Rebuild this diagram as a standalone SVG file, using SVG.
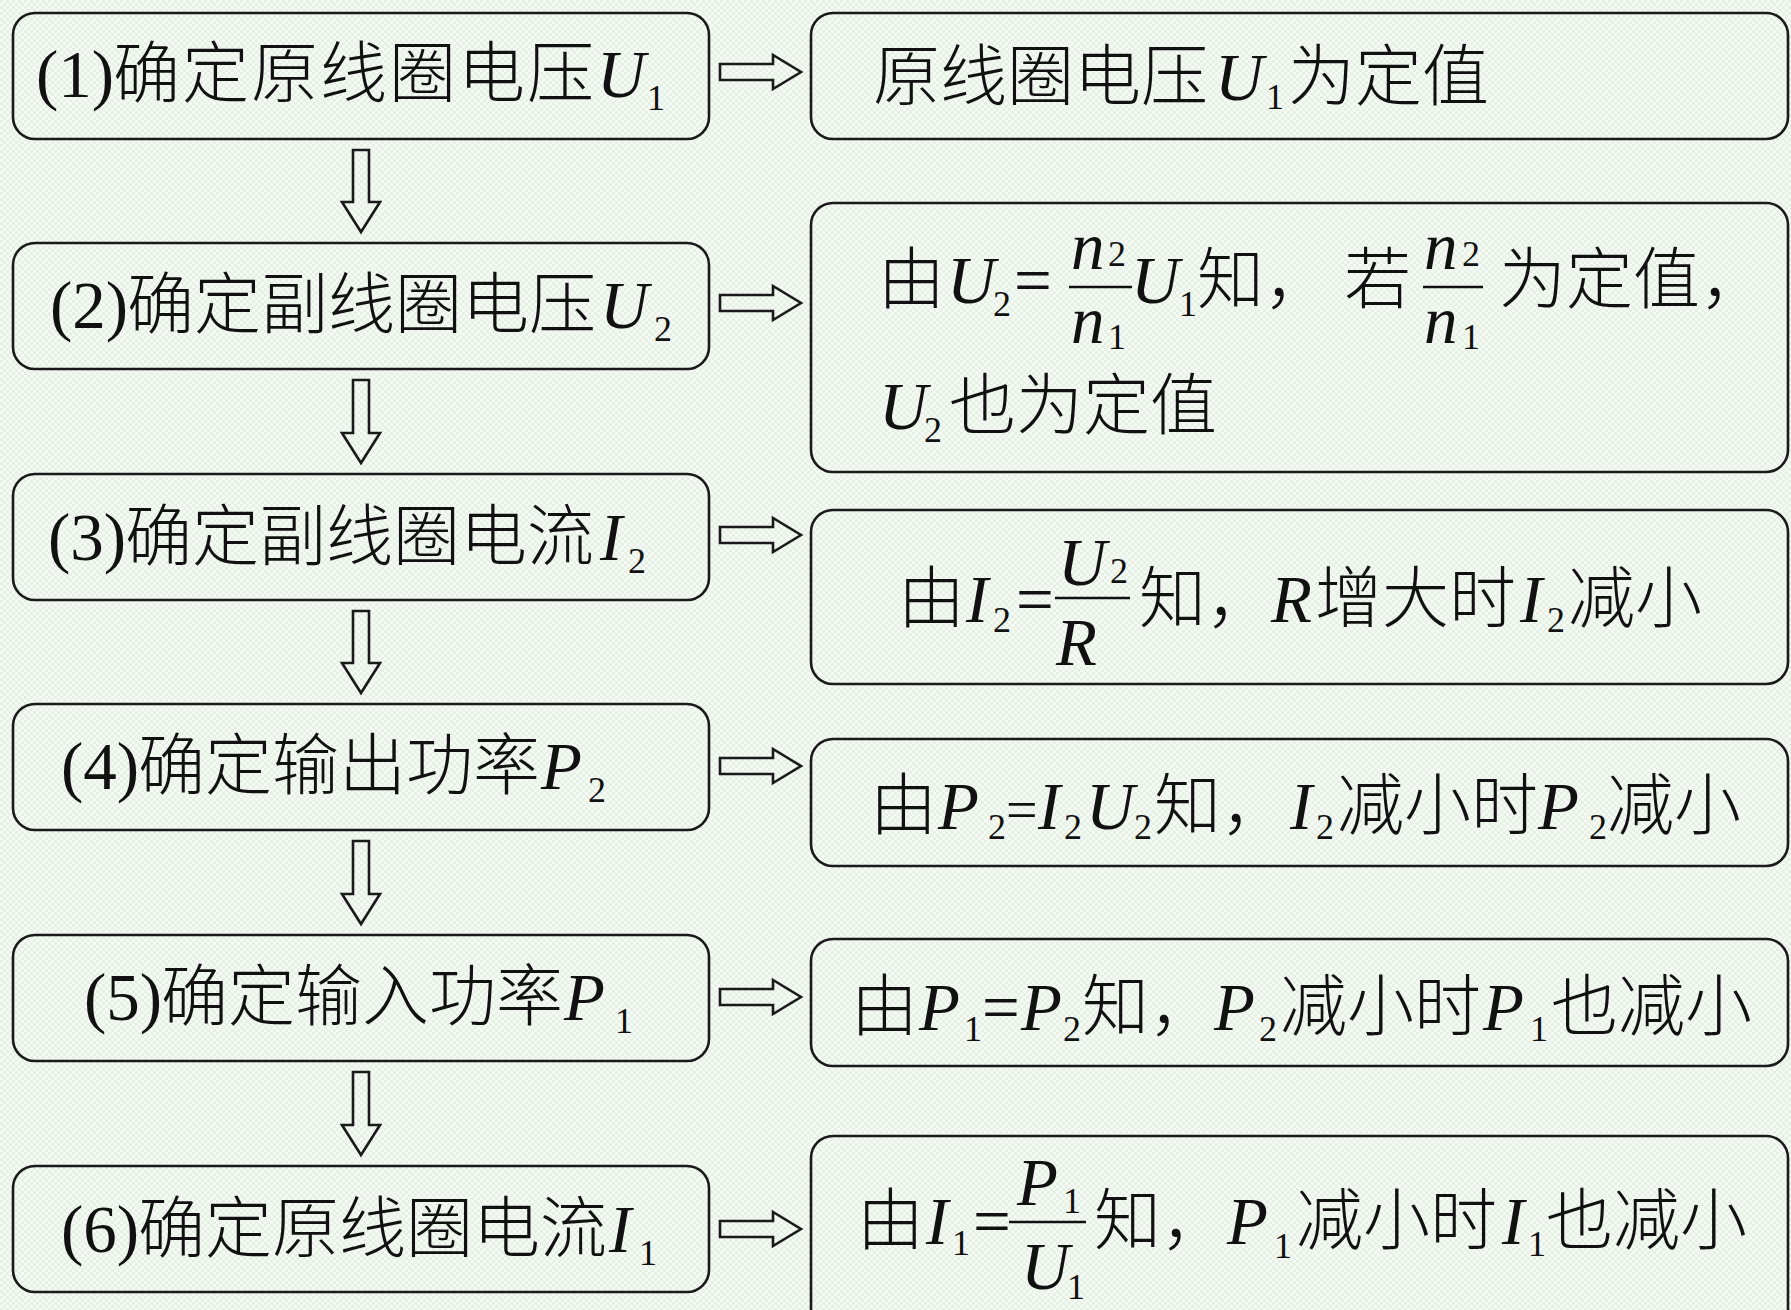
<svg xmlns="http://www.w3.org/2000/svg" width="1791" height="1310" viewBox="0 0 1791 1310">
<style>
.box{fill:none;stroke:#1a1a1a;stroke-width:2.6}
.arr{fill:none;stroke:#1a1a1a;stroke-width:2.6;stroke-linejoin:miter}
.bar{stroke:#111;stroke-width:2.6}
.t{font-family:'Liberation Serif','Noto Sans CJK SC',serif;font-size:67px;fill:#111}
.c{font-family:'Noto Sans CJK SC',sans-serif;font-size:67px;font-weight:300}
.i{font-style:italic}
.s{font-size:36px}
.e{font-size:56px}
</style>
<defs>
<pattern id="bg" width="6" height="6" patternUnits="userSpaceOnUse">
<rect width="6" height="6" fill="#f5faf4"/>
<rect width="3" height="3" fill="#e6f0e5"/>
<rect x="3" y="3" width="3" height="3" fill="#e6f0e5"/>
</pattern>
</defs>
<rect width="1791" height="1310" fill="url(#bg)"/>

<g id="connectors">
<path class="arr" d="M353,150 V202 H342 L361,232 L380,202 H369 V150 Z"/>
<path class="arr" d="M353,380 V433 H342 L361,463 L380,433 H369 V380 Z"/>
<path class="arr" d="M353,611 V663 H342 L361,693 L380,663 H369 V611 Z"/>
<path class="arr" d="M353,841 V894 H342 L361,924 L380,894 H369 V841 Z"/>
<path class="arr" d="M353,1072 V1125 H342 L361,1155 L380,1125 H369 V1072 Z"/>
<path class="arr" d="M720,64 H773 V55 L801,72 L773,89 V80 H720 Z"/>
<path class="arr" d="M720,295 H773 V286 L801,303 L773,320 V311 H720 Z"/>
<path class="arr" d="M720,527 H773 V518 L801,535 L773,552 V543 H720 Z"/>
<path class="arr" d="M720,758 H773 V749 L801,766 L773,783 V774 H720 Z"/>
<path class="arr" d="M720,989 H773 V980 L801,997 L773,1014 V1005 H720 Z"/>
<path class="arr" d="M720,1221 H773 V1212 L801,1229 L773,1246 V1237 H720 Z"/>
</g>

<g id="n1">
<rect class="box" x="13" y="13" width="696" height="126" rx="22"/>
<text class="t"><tspan x="36" y="97">(1)</tspan><tspan class="c" x="113" y="97" letter-spacing="2">确定原线圈电压</tspan><tspan class="i" x="597" y="97">U</tspan><tspan class="s" x="647" y="110">1</tspan></text>
</g>
<g id="n2">
<rect class="box" x="13" y="243" width="696" height="126" rx="22"/>
<text class="t"><tspan x="50" y="328">(2)</tspan><tspan class="c" x="127" y="328">确定副线圈电压</tspan><tspan class="i" x="600" y="328">U</tspan><tspan class="s" x="654" y="341">2</tspan></text>
</g>
<g id="n3">
<rect class="box" x="13" y="474" width="696" height="126" rx="22"/>
<text class="t"><tspan x="48" y="560">(3)</tspan><tspan class="c" x="125" y="560">确定副线圈电流</tspan><tspan class="i" x="600" y="560">I</tspan><tspan class="s" x="628" y="573">2</tspan></text>
</g>
<g id="n4">
<rect class="box" x="13" y="704" width="696" height="126" rx="22"/>
<text class="t"><tspan x="61" y="789">(4)</tspan><tspan class="c" x="138" y="789">确定输出功率</tspan><tspan class="i" x="541" y="789">P</tspan><tspan class="s" x="588" y="802">2</tspan></text>
</g>
<g id="n5">
<rect class="box" x="13" y="935" width="696" height="126" rx="22"/>
<text class="t"><tspan x="84" y="1020">(5)</tspan><tspan class="c" x="161" y="1020">确定输入功率</tspan><tspan class="i" x="564" y="1020">P</tspan><tspan class="s" x="615" y="1033">1</tspan></text>
</g>
<g id="n6">
<rect class="box" x="13" y="1166" width="696" height="126" rx="22"/>
<text class="t"><tspan x="61" y="1252">(6)</tspan><tspan class="c" x="138" y="1252">确定原线圈电流</tspan><tspan class="i" x="609" y="1252">I</tspan><tspan class="s" x="639" y="1265">1</tspan></text>
</g>

<g id="r1">
<rect class="box" x="811" y="13" width="977" height="126" rx="22"/>
<text class="t"><tspan class="c" x="873" y="100">原线圈电压</tspan><tspan class="i" x="1215" y="100">U</tspan><tspan class="s" x="1266" y="109">1</tspan><tspan class="c" x="1288" y="100">为定值</tspan></text>
</g>
<g id="r2">
<rect class="box" x="811" y="203" width="977" height="269" rx="22"/>
<line class="bar" x1="1069" y1="287" x2="1132" y2="287"/>
<line class="bar" x1="1423" y1="287" x2="1483" y2="287"/>
<text class="t"><tspan class="c" x="878" y="303">由</tspan><tspan class="i" x="947" y="303">U</tspan><tspan class="s" x="993" y="316">2</tspan><tspan x="1014" y="303">=</tspan><tspan class="i" x="1071" y="269">n</tspan><tspan class="s" x="1108" y="266">2</tspan><tspan class="i" x="1071" y="343">n</tspan><tspan class="s" x="1108" y="349">1</tspan><tspan class="i" x="1131" y="303">U</tspan><tspan class="s" x="1179" y="316">1</tspan><tspan class="c" x="1197" y="303">知，</tspan><tspan class="c" x="1344" y="303">若</tspan><tspan class="i" x="1424" y="269">n</tspan><tspan class="s" x="1462" y="266">2</tspan><tspan class="i" x="1424" y="343">n</tspan><tspan class="s" x="1462" y="349">1</tspan><tspan class="c" x="1499" y="303">为定值，</tspan></text>
<text class="t"><tspan class="i" x="879" y="429">U</tspan><tspan class="s" x="924" y="442">2</tspan><tspan class="c" x="949" y="429">也为定值</tspan></text>
</g>
<g id="r3">
<rect class="box" x="811" y="510" width="977" height="174" rx="22"/>
<line class="bar" x1="1055" y1="598" x2="1130" y2="598"/>
<text class="t"><tspan class="c" x="898" y="622">由</tspan><tspan class="i" x="966" y="622">I</tspan><tspan class="s" x="993" y="632">2</tspan><tspan x="1016" y="622">=</tspan><tspan class="i" x="1058" y="585">U</tspan><tspan class="s" x="1110" y="583">2</tspan><tspan class="i" x="1056" y="665">R</tspan><tspan class="c" x="1139" y="622">知，</tspan><tspan class="i" x="1271" y="622">R</tspan><tspan class="c" x="1315" y="622">增大时</tspan><tspan class="i" x="1520" y="622">I</tspan><tspan class="s" x="1547" y="632">2</tspan><tspan class="c" x="1568" y="622">减小</tspan></text>
</g>
<g id="r4">
<rect class="box" x="811" y="739" width="977" height="127" rx="22"/>
<text class="t"><tspan class="c" x="870" y="829">由</tspan><tspan class="i" x="938" y="829">P</tspan><tspan class="s" x="988" y="839">2</tspan><tspan class="e" x="1006" y="829">=</tspan><tspan class="i" x="1038" y="829">I</tspan><tspan class="s" x="1064" y="839">2</tspan><tspan class="i" x="1086" y="829">U</tspan><tspan class="s" x="1134" y="839">2</tspan><tspan class="c" x="1154" y="829">知，</tspan><tspan class="i" x="1290" y="829">I</tspan><tspan class="s" x="1316" y="839">2</tspan><tspan class="c" x="1337" y="829">减小时</tspan><tspan class="i" x="1538" y="829">P</tspan><tspan class="s" x="1589" y="839">2</tspan><tspan class="c" x="1607" y="829">减小</tspan></text>
</g>
<g id="r5">
<rect class="box" x="811" y="939" width="977" height="127" rx="22"/>
<text class="t"><tspan class="c" x="851" y="1030">由</tspan><tspan class="i" x="919" y="1030">P</tspan><tspan class="s" x="964" y="1041">1</tspan><tspan x="982" y="1030">=</tspan><tspan class="i" x="1021" y="1030">P</tspan><tspan class="s" x="1063" y="1041">2</tspan><tspan class="c" x="1082" y="1030">知，</tspan><tspan class="i" x="1214" y="1030">P</tspan><tspan class="s" x="1259" y="1041">2</tspan><tspan class="c" x="1280" y="1030">减小时</tspan><tspan class="i" x="1483" y="1030">P</tspan><tspan class="s" x="1530" y="1041">1</tspan><tspan class="c" x="1551" y="1030">也减小</tspan></text>
</g>
<g id="r6">
<rect class="box" x="811" y="1136" width="977" height="204" rx="22"/>
<line class="bar" x1="1009" y1="1222" x2="1086" y2="1222"/>
<text class="t"><tspan class="c" x="857" y="1244">由</tspan><tspan class="i" x="926" y="1244">I</tspan><tspan class="s" x="952" y="1255">1</tspan><tspan x="973" y="1244">=</tspan><tspan class="i" x="1017" y="1205">P</tspan><tspan class="s" x="1063" y="1213">1</tspan><tspan class="i" x="1021" y="1289">U</tspan><tspan class="s" x="1067" y="1299">1</tspan><tspan class="c" x="1094" y="1244">知，</tspan><tspan class="i" x="1227" y="1244">P</tspan><tspan class="s" x="1274" y="1258">1</tspan><tspan class="c" x="1296" y="1244">减小时</tspan><tspan class="i" x="1502" y="1244">I</tspan><tspan class="s" x="1528" y="1256">1</tspan><tspan class="c" x="1546" y="1244">也减小</tspan></text>
</g>
</svg>
